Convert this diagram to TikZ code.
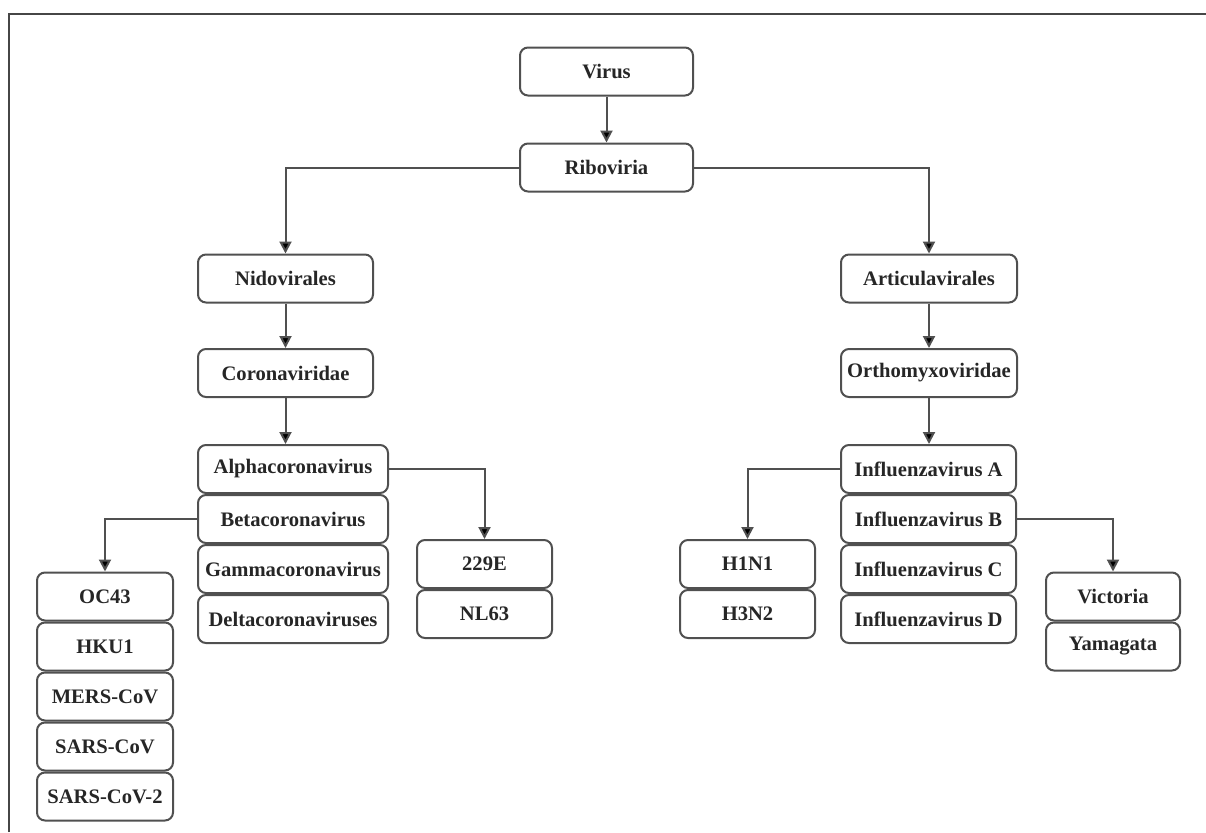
\documentclass[tikz,border=0pt]{standalone}
\usepackage{fontspec}
\setmainfont{Liberation Serif}
\usepackage{tikz}
\usetikzlibrary{positioning,arrows.meta}
\usepackage{xcolor}

\begin{document}
\begin{tikzpicture}[x=0.5pt,y=-0.5pt]
\definecolor{linecolor}{RGB}{80,80,80} % Definition of the line color
\definecolor{framecolor}{RGB}{70,70,70} % Definition of the frame color
\tikzset{
  taxon/.style={draw=linecolor,fill=white,line width=1pt,rounded corners=4pt,minimum height=24pt,inner sep=0pt,font=\bfseries\fontsize{10.3}{12}\selectfont,text=black!85},
  link/.style={draw=linecolor,line width=1pt,-{Triangle[length=6pt,width=6pt,fill=black]}}
}
\useasboundingbox (0,0) rectangle (1206,832); % Size of the page
\draw[framecolor,line width=1pt] (9,832) -- (9,14) -- (1206,14); % Frame on the top and the left

% Top of the tree
\node[taxon,minimum width=86.5pt] (virus) at (606.5,71.5) {Virus};
\node[taxon,minimum width=86.5pt] (ribo) at (606.5,167.5) {Riboviria};

% Left branch
\node[taxon,minimum width=87.5pt] (nido) at (285.5,278.5) {Nidovirales};
\node[taxon,minimum width=87.5pt] (corona) at (285.5,373) {Coronaviridae};
\node[taxon,minimum width=95pt] (alpha) at (293,469) {Alphacoronavirus};
\node[taxon,minimum width=95pt,below=0pt of alpha] (beta) {Betacoronavirus};
\node[taxon,minimum width=95pt,below=0pt of beta] (gamma) {Gammacoronavirus};
\node[taxon,minimum width=95pt,below=0pt of gamma] (delta) {Deltacoronaviruses};
\node[taxon,minimum width=67.5pt] (e229) at (484.5,564) {229E};
\node[taxon,minimum width=67.5pt,below=0pt of e229] (nl63) {NL63};
\node[taxon,minimum width=68pt] (oc43) at (105,596.5) {OC43};
\node[taxon,minimum width=68pt,below=0pt of oc43] (hku1) {HKU1};
\node[taxon,minimum width=68pt,below=0pt of hku1] (mers) {MERS-CoV};
\node[taxon,minimum width=68pt,below=0pt of mers] (sars) {SARS-CoV};
\node[taxon,minimum width=68pt,below=0pt of sars] (sarstwo) {SARS-CoV-2};

% Right branch
\node[taxon,minimum width=88pt] (artic) at (929,278.5) {Articulavirales};
\node[taxon,minimum width=88pt] (orth) at (929,373) {Orthomyxoviridae};
\node[taxon,minimum width=87.5pt] (infa) at (928.5,469) {Influenzavirus A};
\node[taxon,minimum width=87.5pt,below=0pt of infa] (infb) {Influenzavirus B};
\node[taxon,minimum width=87.5pt,below=0pt of infb] (infc) {Influenzavirus C};
\node[taxon,minimum width=87.5pt,below=0pt of infc] (infd) {Influenzavirus D};
\node[taxon,minimum width=67.5pt] (hone) at (747.5,564) {H1N1};
\node[taxon,minimum width=67.5pt,below=0pt of hone] (hthree) {H3N2};
\node[taxon,minimum width=67pt] (vict) at (1113,596.5) {Victoria};
\node[taxon,minimum width=67pt,below=0pt of vict] (yama) {Yamagata};

% Connectors
\draw[link] (virus) -- (ribo);
\draw[link] (ribo.west) -| (nido.north);
\draw[link] (ribo.east) -| (artic.north);
\draw[link] (nido) -- (corona);
\draw[link] (corona.south) -- (corona.south |- alpha.north);
\draw[link] (alpha.east) -| (e229.north);
\draw[link] (beta.west) -| (oc43.north);
\draw[link] (artic) -- (orth);
\draw[link] (orth.south) -- (orth.south |- infa.north);
\draw[link] (infa.west) -| (hone.north);
\draw[link] (infb.east) -| (vict.north);

\end{tikzpicture}
\end{document}
